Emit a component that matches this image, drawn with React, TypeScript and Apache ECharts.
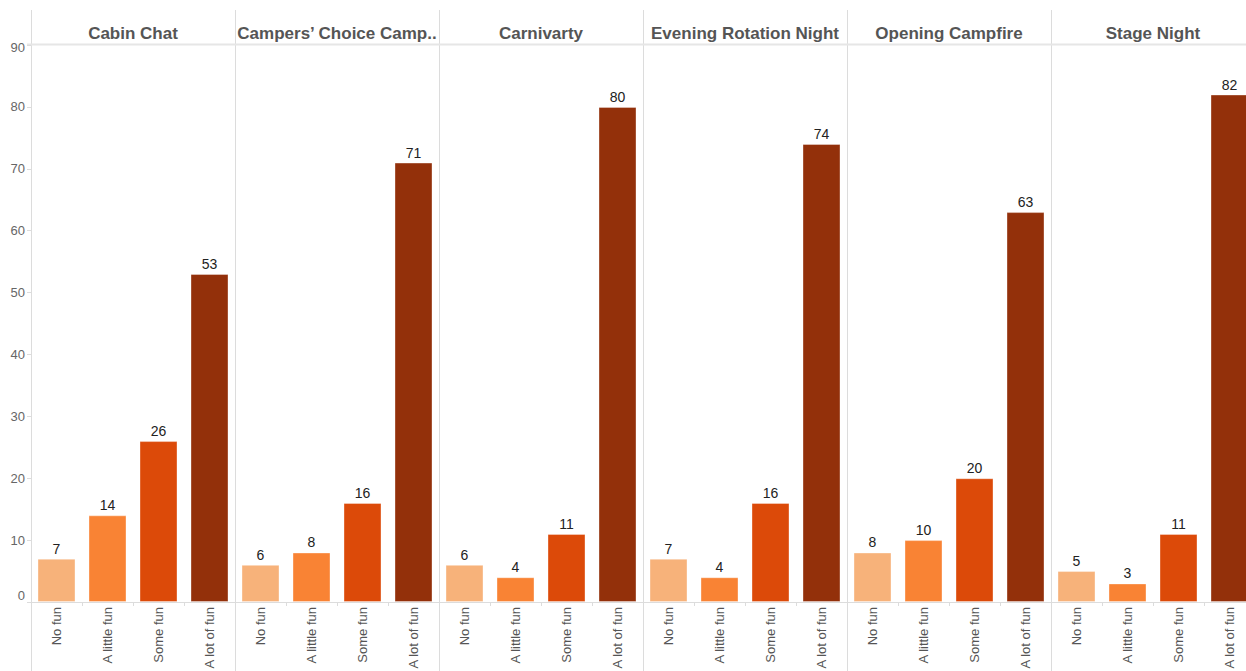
import React, { useEffect, useRef } from "react";
import * as echarts from "echarts";

const panels = [
  "Cabin Chat",
  "Campers’ Choice Camp..",
  "Carnivarty",
  "Evening Rotation Night",
  "Opening Campfire",
  "Stage Night",
];
const categories = ["No fun", "A little fun", "Some fun", "A lot of fun"];
const cabinChat = [7, 14, 26, 53];
const campersChoice = [6, 8, 16, 71];
const carnivarty = [6, 4, 11, 80];
const eveningRotation = [7, 4, 16, 74];
const openingCampfire = [8, 10, 20, 63];
const stageNight = [5, 3, 11, 82];
const seriesValues = [cabinChat, campersChoice, carnivarty, eveningRotation, openingCampfire, stageNight];
const yTicks = [0, 10, 20, 30, 40, 50, 60, 70, 80, 90];

const colors = ["#F7B27A", "#F98334", "#DC4A09", "#93300A"];
const FONT = "'Liberation Sans', Arial, sans-serif";

export default function App() {
  const ref = useRef<HTMLDivElement>(null);
  useEffect(() => {
    if (!ref.current) return;
    const chart = echarts.init(ref.current, null, { renderer: "svg" });
    const left0 = 31;
    const pw = 204;
    const top = 45;
    const bottomY = 602;
    const H = 671;
    const grids: any[] = [];
    const xAxes: any[] = [];
    const yAxes: any[] = [];
    const series: any[] = [];
    const graphics: any[] = [];
    const yMax = yTicks[yTicks.length - 1];

    panels.forEach((name, i) => {
      grids.push({
        left: left0 + pw * i,
        top,
        width: pw,
        height: bottomY - top,
        containLabel: false,
        outerBoundsMode: "none",
      });
      xAxes.push({
        type: "category",
        gridIndex: i,
        data: categories,
        axisLine: { show: true, lineStyle: { color: "#dcdcdc", width: 1 } },
        axisTick: { show: true, length: 4, lineStyle: { color: "#dcdcdc" } },
        axisLabel: {
          rotate: 90,
          margin: 5,
          color: "#555",
          fontSize: 13,
          fontFamily: FONT,
          interval: 0,
        },
      });
      yAxes.push({
        type: "value",
        gridIndex: i,
        min: 0,
        max: yMax,
        interval: 10,
        splitLine: { show: false },
        axisLine: { show: false },
        axisTick: { show: i === 0, length: 4, lineStyle: { color: "#dcdcdc" } },
        axisLabel: {
          show: i === 0,
          color: "#666",
          fontSize: 13,
          fontFamily: FONT,
          margin: 6,
          formatter: (v: number) => (v === 0 ? "{z|0}" : v === yMax ? "{t|" + v + "}" : String(v)),
          rich: {
            z: { color: "#666", fontSize: 13, fontFamily: FONT, padding: [0, 0, 13, 0] },
            t: { color: "#666", fontSize: 13, fontFamily: FONT, padding: [4, 0, 0, 0] },
          },
        },
      });
      series.push({
        type: "bar",
        xAxisIndex: i,
        yAxisIndex: i,
        barWidth: 38,
        data: seriesValues[i].map((v, j) => ({
          value: v,
          itemStyle: { color: colors[j], borderColor: "rgba(255,255,255,0.35)", borderWidth: 1 },
        })),
        label: {
          show: true,
          position: "top",
          distance: 3,
          color: "#222",
          fontSize: 14,
          fontFamily: FONT,
        },
      });
      graphics.push({
        type: "text",
        x: left0 + pw * i + pw / 2,
        y: 33,
        style: {
          text: name,
          fill: "#555",
          font: `bold 17px ${FONT}`,
          textAlign: "center",
          textVerticalAlign: "middle",
        },
      });
    });

    for (let i = 0; i <= panels.length; i++) {
      graphics.push({
        type: "line",
        shape: { x1: left0 + pw * i + 0.5, y1: 10, x2: left0 + pw * i + 0.5, y2: H },
        style: { stroke: "#dcdcdc", lineWidth: 1 },
        z: 0,
      });
    }
    graphics.push({
      type: "line",
      shape: { x1: 27, y1: 44.5, x2: 1246, y2: 44.5 },
      style: { stroke: "#e6e6e6", lineWidth: 2 },
      z: 0,
    });

    chart.setOption({
      animation: false,
      backgroundColor: "#fff",
      grid: grids,
      xAxis: xAxes,
      yAxis: yAxes,
      series,
      graphic: graphics,
    });
    return () => chart.dispose();
  }, []);
  return (
    <div
      ref={ref}
      style={{ position: "absolute", left: 0, top: 0, width: 1246, height: 671 }}
    />
  );
}
